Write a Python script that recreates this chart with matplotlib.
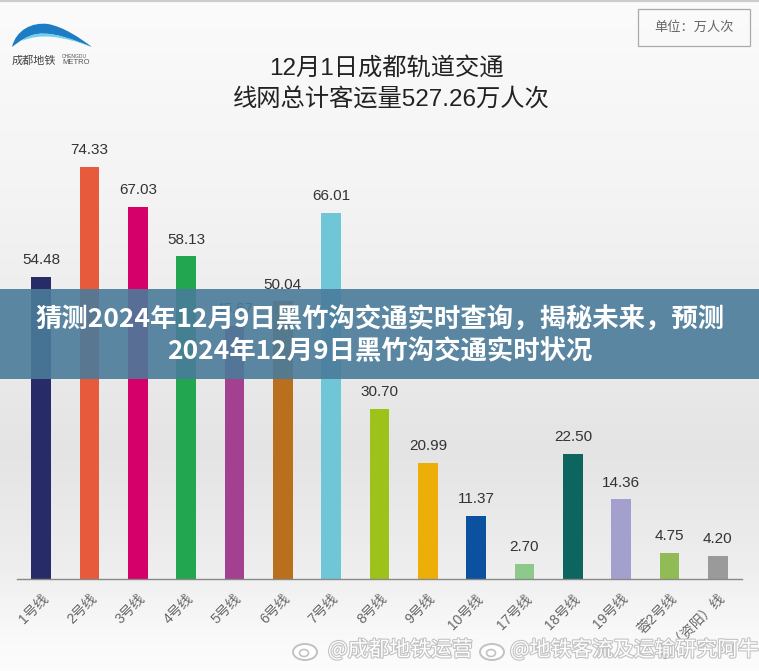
import numpy as np
import matplotlib
matplotlib.use("Agg")
import matplotlib.pyplot as plt
from matplotlib.patches import Rectangle, PathPatch, Ellipse
from matplotlib.path import Path
import matplotlib.patheffects as pe

plt.rcParams['font.family'] = ['Liberation Sans', 'Noto Sans CJK SC', 'DejaVu Sans']

# ---------------- data ----------------
lines = ['1号线', '2号线', '3号线', '4号线', '5号线', '6号线', '7号线', '8号线',
         '9号线', '10号线', '17号线', '18号线', '19号线', '蓉2号线', 'S3（资阳）线']
values = [54.48, 74.33, 67.03, 58.13, 45.67, 50.04, 66.01, 30.70,
          20.99, 11.37, 2.70, 22.50, 14.36, 4.75, 4.20]
colors = ['#272b68', '#e85a3c', '#d6006a', '#22a650', '#a3408f', '#b96f1d',
          '#6fc6d6', '#9dc21a', '#eeae08', '#0b519f', '#8cc98a', '#0c655e',
          '#a3a0cd', '#90bb55', '#9a9a9a']
title_lines = ['12月1日成都轨道交通', '线网总计客运量527.26万人次']
banner_lines = ['猜测2024年12月9日黑竹沟交通实时查询，揭秘未来，预测',
                '2024年12月9日黑竹沟交通实时状况']
unit_text = '单位：万人次'
watermarks = ['@成都地铁运营', '@地铁客流及运输研究阿牛']

W, H = 759, 671
fig = plt.figure(figsize=(W / 100, H / 100), dpi=100)

# ---------------- background gradient ----------------
bg = fig.add_axes([0, 0, 1, 1], zorder=0)
ys = np.array([0, 60, 200, 330, 450, 560, 630, 671])
gs = np.array([0.985, 0.975, 0.955, 0.925, 0.895, 0.93, 0.975, 0.99])
yy = np.arange(H)
g = np.interp(yy, ys, gs)
img = np.repeat(g[:, None], 8, axis=1)
bg.imshow(np.dstack([img, img, img]), aspect='auto', extent=[0, W, H, 0])
bg.set_xlim(0, W)
bg.set_ylim(H, 0)
bg.axis('off')
bg.plot([0, W], [1, 1], color='#cccccc', lw=1.5)

# ---------------- bar chart ----------------
px = 5.548  # pixels per unit
base_y = 579
ymax = 80
ax = fig.add_axes([17 / W, (H - base_y) / H, (742 - 17) / W, ymax * px / H], zorder=1)
ax.patch.set_alpha(0)
x = np.arange(len(lines))
ax.bar(x, values, width=0.41, color=colors, zorder=2)
for xi, v in zip(x, values):
    ax.annotate(f'{v:.2f}', (xi, v), xytext=(0, 7), textcoords='offset points',
                ha='center', va='bottom', fontsize=11, color='#333333',
                family=['Liberation Sans', 'Noto Sans CJK SC'])
ax.set_xlim(-0.5, len(lines) - 0.5)
ax.set_ylim(0, ymax)
for s in ['top', 'right', 'left']:
    ax.spines[s].set_visible(False)
ax.spines['bottom'].set_color('#888888')
ax.spines['bottom'].set_linewidth(1.0)
ax.set_yticks([])
ax.set_xticks(x)
ax.set_xticklabels(lines, rotation=45, ha='right', rotation_mode='anchor',
                   fontsize=10, color='#666666',
                   family=['Liberation Sans', 'Noto Sans CJK SC'])
ax.tick_params(axis='x', length=0, pad=9)

# ---------------- overlay ----------------
ov = fig.add_axes([0, 0, 1, 1], zorder=3)
ov.patch.set_alpha(0)
ov.set_xlim(0, W)
ov.set_ylim(H, 0)
ov.axis('off')

# titles
ov.text(386, 68, title_lines[0], ha='center', va='center', fontsize=17.5,
        color='#222222', family=['Liberation Sans', 'Noto Sans CJK SC'])
ov.text(391, 100, title_lines[1], ha='center', va='center', fontsize=17.5,
        color='#222222', family=['Liberation Sans', 'Noto Sans CJK SC'])

# unit box
ov.add_patch(Rectangle((638, 9), 112, 37, fill=False, ec='#aaaaaa', lw=0.9))
ov.text(694, 27.5, unit_text, ha='center', va='center', fontsize=9.5,
        color='#666666', family=['Noto Sans CJK SC'])

# logo swoosh
outer = Path([(12, 47), (16, 30), (32, 22), (48, 24), (64, 27), (80, 38), (92, 47),
              (74, 40), (54, 32), (38, 34), (26, 36), (20, 41), (12, 47), (12, 47)],
             [Path.MOVETO, Path.CURVE4, Path.CURVE4, Path.CURVE4, Path.CURVE4,
              Path.CURVE4, Path.CURVE4, Path.CURVE4, Path.CURVE4, Path.CURVE4,
              Path.CURVE4, Path.CURVE4, Path.CURVE4, Path.CLOSEPOLY])
ov.add_patch(PathPatch(outer, fc='#1d7cc4', ec='none'))
inner = Path([(22, 41), (32, 31), (50, 29), (92, 47),
              (62, 36), (40, 33), (22, 41), (22, 41)],
             [Path.MOVETO, Path.CURVE4, Path.CURVE4, Path.CURVE4,
              Path.CURVE4, Path.CURVE4, Path.CURVE4, Path.CLOSEPOLY])
ov.add_patch(PathPatch(inner, fc='#6fd0ee', ec='none'))
ov.text(12, 61, '成都地铁', ha='left', va='center', fontsize=8, color='#444444',
        family=['Noto Sans CJK SC'])
ov.text(62, 57, 'CHENGDU', ha='left', va='center', fontsize=3.6, color='#555555')
ov.text(62, 63, 'METRO', ha='left', va='center', fontsize=5.5, color='#555555')

# banner
ov.add_patch(Rectangle((0, 289), W, 90, fc='#4a7b9a', ec='none', alpha=0.9))
ov.text(380, 320, banner_lines[0], ha='center', va='center', fontsize=19,
        fontweight='bold', color='white', family=['Noto Sans CJK SC'])
ov.text(380, 352, banner_lines[1], ha='center', va='center', fontsize=19,
        fontweight='bold', color='white', family=['Noto Sans CJK SC'])

# watermarks
stroke = [pe.withStroke(linewidth=1.6, foreground='#c2c2c2')]
for (ix, tx), t in zip([(305, 328), (492, 510)], watermarks):
    e1 = Ellipse((ix, 652), 24, 16, fc='white', ec='#c2c2c2', lw=1.4)
    e2 = Ellipse((ix - 1, 653), 9, 7, fc='white', ec='#c2c2c2', lw=1.2)
    ov.add_patch(e1)
    ov.add_patch(e2)
    ov.text(tx, 650, t, ha='left', va='center', fontsize=15, color='white',
            family=['Noto Sans CJK SC'], path_effects=stroke)

fig.savefig('out.png', dpi=100)
